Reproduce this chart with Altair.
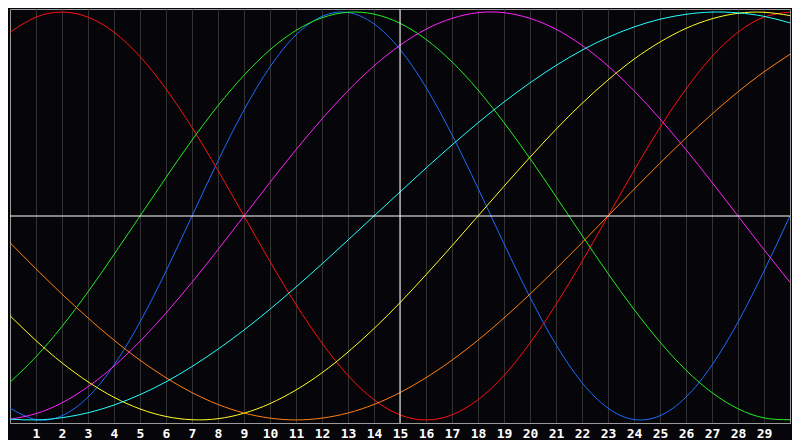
import altair as alt
import pandas as pd

days = list(range(31))
tick_labels = list(range(1, 30))

series_names = ["physical", "emotional", "intellectual", "intuitive", "aesthetic", "awareness", "spiritual"]
series_colors = ["#1a6cff", "#ff1010", "#22ee22", "#ff22ff", "#ffff22", "#ff8010", "#22ffff"]

physical = [-0.942, -0.998, -0.979, -0.888, -0.731, -0.520, -0.270, 0.000, 0.270, 0.520, 0.731,
            0.888, 0.979, 0.998, 0.942, 0.817, 0.631, 0.398, 0.136, -0.136, -0.398,
            -0.631, -0.817, -0.942, -0.998, -0.979, -0.888, -0.731, -0.520, -0.270, 0.000]
emotional = [0.901, 0.975, 1.000, 0.975, 0.901, 0.782, 0.623, 0.434, 0.223, 0.000, -0.223,
             -0.434, -0.623, -0.782, -0.901, -0.975, -1.000, -0.975, -0.901, -0.782, -0.623,
             -0.434, -0.223, 0.000, 0.223, 0.434, 0.623, 0.782, 0.901, 0.975, 1.000]
intellectual = [-0.815, -0.690, -0.541, -0.372, -0.189, 0.000, 0.189, 0.372, 0.541, 0.690, 0.815,
                0.910, 0.972, 0.999, 0.990, 0.945, 0.866, 0.756, 0.618, 0.458, 0.282,
                0.095, -0.095, -0.282, -0.458, -0.618, -0.756, -0.866, -0.945, -0.990, -0.999]
intuitive = [-0.997, -0.969, -0.916, -0.837, -0.736, -0.614, -0.476, -0.325, -0.165, 0.000, 0.165,
             0.325, 0.476, 0.614, 0.736, 0.837, 0.916, 0.969, 0.997, 0.997, 0.969,
             0.916, 0.837, 0.736, 0.614, 0.476, 0.325, 0.165, 0.000, -0.165, -0.325]
aesthetic = [-0.489, -0.611, -0.720, -0.813, -0.889, -0.946, -0.983, -0.999, -0.994, -0.967, -0.920,
             -0.853, -0.769, -0.667, -0.552, -0.425, -0.288, -0.146, 0.000, 0.146, 0.288,
             0.425, 0.552, 0.667, 0.769, 0.853, 0.920, 0.967, 0.994, 0.999, 0.983]
awareness = [-0.131, -0.259, -0.383, -0.500, -0.609, -0.707, -0.793, -0.866, -0.924, -0.966, -0.991,
             -1.000, -0.991, -0.966, -0.924, -0.866, -0.793, -0.707, -0.609, -0.500, -0.383,
             -0.259, -0.131, 0.000, 0.131, 0.259, 0.383, 0.500, 0.609, 0.707, 0.793]
spiritual = [-0.996, -1.000, -0.989, -0.965, -0.927, -0.876, -0.813, -0.738, -0.653, -0.559, -0.457,
             -0.348, -0.235, -0.118, 0.000, 0.118, 0.235, 0.348, 0.457, 0.559, 0.653,
             0.738, 0.813, 0.876, 0.927, 0.965, 0.989, 1.000, 0.996, 0.979, 0.947]

all_series = [physical, emotional, intellectual, intuitive, aesthetic, awareness, spiritual]

rows = []
for name, vals in zip(series_names, all_series):
    for d, v in zip(days, vals):
        rows.append({"day": d, "value": v, "series": name})
df = pd.DataFrame(rows)

x_scale = alt.Scale(domain=[0, 30], nice=False, zero=False)
y_scale = alt.Scale(domain=[-1.015, 1.015], nice=False, zero=False)

x_axis = alt.Axis(values=tick_labels, title=None, ticks=False, grid=True,
                  gridColor="#333333", gridWidth=1, gridOpacity=1,
                  labelColor="#ffffff", labelFont="DejaVu Sans Mono",
                  labelFontWeight="bold", labelFontSize=13, labelPadding=4,
                  labelOverlap=False, labelFlush=False, labelBound=False,
                  domainColor="#9a9a9a", domainWidth=1, format="d")

lines = alt.Chart(df).mark_line(strokeWidth=1, interpolate="natural").encode(
    x=alt.X("day:Q", scale=x_scale, axis=x_axis),
    y=alt.Y("value:Q", scale=y_scale, axis=None),
    color=alt.Color("series:N", scale=alt.Scale(domain=series_names, range=series_colors), legend=None),
    detail="series:N",
)

center_df = pd.DataFrame({"day": [15], "value": [0]})
vline = alt.Chart(center_df).mark_rule(color="#ffffff", strokeWidth=1).encode(
    x=alt.X("day:Q", scale=x_scale, axis=x_axis)
)
hline = alt.Chart(center_df).mark_rule(color="#ffffff", strokeWidth=1).encode(
    y=alt.Y("value:Q", scale=y_scale, axis=None)
)

chart = alt.layer(lines, vline, hline).properties(
    width=784, height=432,
    autosize=alt.AutoSizeParams(type="fit", contains="padding"),
    padding=0,
    background="#060509",
).configure_view(
    fill="#060509", stroke="#9a9a9a", strokeWidth=1
).configure_axisX(
    labelOverlap=False, labelFontSize=13, labelFont="DejaVu Sans Mono",
    labelFontWeight="bold", labelColor="#ffffff",
    gridColor="#333333", gridOpacity=1, gridWidth=1
)

chart.save("out.html", embed_options={"renderer": "svg", "actions": False})
